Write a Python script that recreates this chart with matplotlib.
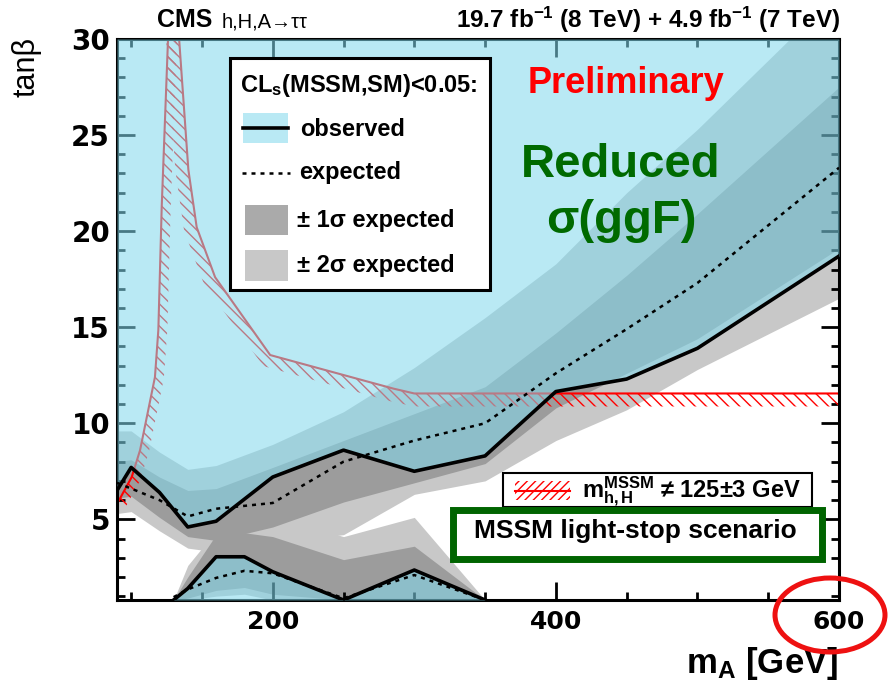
import numpy as np
import matplotlib.pyplot as plt
from matplotlib.patches import Polygon, Rectangle, Ellipse
from matplotlib.lines import Line2D
from matplotlib.ticker import MultipleLocator

plt.rcParams['font.family'] = ['Liberation Sans', 'DejaVu Sans']
plt.rcParams['mathtext.fontset'] = 'custom'
plt.rcParams['mathtext.rm'] = 'Liberation Sans'
plt.rcParams['mathtext.it'] = 'Liberation Sans:italic'
plt.rcParams['mathtext.bf'] = 'Liberation Sans:bold'
plt.rcParams['hatch.linewidth'] = 1.0

# upper exclusion contour (mA in GeV, tan beta)
m_a = [90, 100, 120, 140, 160, 200, 250, 300, 350, 400, 450, 500, 600]
obs_hi = [6.5, 7.7, 6.4, 4.6, 4.9, 7.2, 8.6, 7.5, 8.3, 11.65, 12.3, 13.9, 18.7]
exp_hi = [6.9, 6.6, 6.0, 5.15, 5.55, 5.85, 8.0, 9.1, 10.0, 12.6, 14.9, 17.3, 23.3]
hi_p1 = [8.0, 8.1, 7.2, 6.5, 6.6, 7.7, 9.1, 10.5, 11.9, 14.7, 17.7, 20.9, 27.5]
hi_p2 = [9.6, 9.6, 8.5, 7.6, 7.8, 8.9, 10.6, 12.9, 15.5, 18.3, 22.0, 25.3, 32.5]
hi_m1 = [6.1, 6.2, 5.1, 4.1, 3.9, 4.6, 5.9, 6.9, 7.9, 10.8, 12.6, 14.4, 19.1]
hi_m2 = [5.3, 5.4, 4.4, 3.5, 3.3, 3.8, 4.2, 6.3, 7.0, 9.1, 10.7, 12.8, 16.5]

# low tan beta island
m_lo = [130, 140, 160, 180, 200, 250, 300, 350]
obs_lo = [0.8, 1.4, 3.05, 3.05, 2.27, 0.8, 2.36, 0.8]
exp_lo = [0.95, 1.35, 1.95, 2.32, 2.19, 0.89, 2.1, 0.8]
lo_p1 = [0.8, 2.0, 4.2, 4.3, 4.1, 2.9, 3.6, 0.8]
lo_p2 = [0.8, 2.6, 4.4, 5.0, 5.2, 4.1, 5.1, 0.8]
lo_m1 = [0.8, 0.9, 1.3, 1.45, 1.1, 0.8, 0.8, 0.8]
lo_m2 = [0.8, 0.8, 1.0, 1.1, 0.8, 0.8, 0.8, 0.8]

# mh,H != 125 +- 3 GeV boundary
hmass_left_x = [90, 100.4, 106.3, 116.8, 119.2, 121.6, 126.3]
hmass_left_y = [5.8, 7.2, 8.6, 12.4, 14.85, 21.3, 30.5]
hmass_right_x = [133.4, 140.4, 146.3, 159.3, 198.2, 285.4, 300, 600]
hmass_right_y = [30.5, 23.2, 20.2, 17.6, 13.55, 11.8, 11.55, 11.55]

TANB_MIN, TANB_MAX = 0.8, 30

BLUE = '#82d9ed'
BLUE_ALPHA = 0.56
GRAY_1S = '#9c9c9c'
GRAY_2S = '#c8c8c8'
GREEN = '#006400'

W, H = 891, 686


def fx(x):
    return x / W


def fy(y):
    return 1 - y / H


def hatched_strip(ax, xs, ys, width, **kw):
    # hatch a band of `width` pixels on the right-hand side of the path
    pts = ax.transData.transform(np.column_stack([xs, ys]))
    d = np.gradient(pts, axis=0)
    d /= np.hypot(d[:, 0], d[:, 1])[:, None]
    normal = np.column_stack([d[:, 1], -d[:, 0]])
    edge = pts + normal * width
    outline = np.vstack([pts, edge[::-1]])
    ax.add_patch(Polygon(ax.transData.inverted().transform(outline), closed=True,
                         fill=False, lw=0, **kw))


fig = plt.figure(figsize=(W / 100, H / 100), dpi=100)
ax = fig.add_axes([fx(117), fy(600), (839 - 117) / W, (600 - 39) / H])
ax.set_xlim(90, 600)
ax.set_ylim(TANB_MIN, TANB_MAX)

# expected bands
ax.fill_between(m_a, hi_m2, hi_p2, color=GRAY_2S, lw=0, zorder=1)
ax.fill_between(m_lo, lo_m2, lo_p2, color=GRAY_2S, lw=0, zorder=1)
ax.fill_between(m_a, hi_m1, hi_p1, color=GRAY_1S, lw=0, zorder=1.1)
ax.fill_between(m_lo, lo_m1, lo_p1, color=GRAY_1S, lw=0, zorder=1.1)

# higgs mass constraint
ax.plot(hmass_left_x, hmass_left_y, color='red', lw=1.5, zorder=2)
ax.plot(hmass_right_x, hmass_right_y, color='red', lw=1.5, zorder=2)
hatched_strip(ax, hmass_left_x, hmass_left_y, 9, hatch='\\\\\\', edgecolor='red', zorder=2)
hatched_strip(ax, hmass_right_x, hmass_right_y, 13, hatch='\\\\\\', edgecolor='red', zorder=2)

# observed exclusion
ax.fill_between(m_a, obs_hi, TANB_MAX, color=BLUE, alpha=BLUE_ALPHA, lw=0, zorder=3)
ax.fill_between(m_lo, TANB_MIN, obs_lo, color=BLUE, alpha=BLUE_ALPHA, lw=0, zorder=3)

ax.plot(m_a, obs_hi, color='black', lw=2.6, zorder=5)
ax.plot(m_lo, obs_lo, color='black', lw=2.6, zorder=5)
ax.plot(m_a, exp_hi, color='black', lw=1.8, ls=(0, (1.6, 2.0)), zorder=5)
ax.plot(m_lo, exp_lo, color='black', lw=1.8, ls=(0, (1.6, 2.0)), zorder=5)

# axes styling
ax.xaxis.set_major_locator(MultipleLocator(200))
ax.xaxis.set_minor_locator(MultipleLocator(50))
ax.yaxis.set_major_locator(MultipleLocator(5))
ax.yaxis.set_minor_locator(MultipleLocator(1))
ax.tick_params(which='both', direction='in', top=True, right=True, width=2,
               labelfontfamily='DejaVu Sans')
ax.tick_params(which='major', length=13)
ax.tick_params(which='minor', length=6)
ax.tick_params(axis='x', labelsize=18, pad=7)
ax.tick_params(axis='y', labelsize=20, pad=5)
for lbl in ax.get_xticklabels() + ax.get_yticklabels():
    lbl.set_fontweight('bold')
for sp in ax.spines.values():
    sp.set_linewidth(2.2)

fig.text(fx(838), fy(673), r'$\mathbf{m_{A}}$ [GeV]', ha='right', va='baseline',
         fontsize=25, fontweight='bold')
fig.text(fx(26), fy(37), 'tanβ', rotation=90, ha='center', va='top', fontsize=22)

# header
fig.text(fx(157), fy(27), 'CMS', fontsize=18, fontweight='bold', va='baseline')
fig.text(fx(222), fy(27), 'h,H,A→ττ', fontsize=14.5, va='baseline')
fig.text(fx(840), fy(28), r'19.7 fb$^{\mathbf{-1}}$ (8 TeV) + 4.9 fb$^{\mathbf{-1}}$ (7 TeV)',
         fontsize=17.5, fontweight='bold', ha='right', va='baseline')

fig.text(fx(626), fy(93), 'Preliminary', color='red', fontsize=26, fontweight='bold',
         ha='center', va='baseline')
fig.text(fx(621), fy(177), 'Reduced', color='#006a00', fontsize=34, fontweight='bold',
         ha='center', va='baseline')
fig.text(fx(621), fy(233), 'σ(ggF)', color='#006a00', fontsize=34, fontweight='bold',
         ha='center', va='baseline')

# main legend
fig.add_artist(Rectangle((fx(230), fy(290)), 260 / W, 232 / H, transform=fig.transFigure,
                         fc='white', ec='black', lw=2.2, zorder=10))
fig.text(fx(240), fy(92), r'CL$_{\mathbf{s}}$(MSSM,SM)<0.05:', fontsize=17,
         fontweight='bold', va='baseline', zorder=11)
fig.add_artist(Rectangle((fx(243), fy(143)), 45 / W, 30 / H, transform=fig.transFigure,
                         fc=BLUE, alpha=BLUE_ALPHA, lw=0, zorder=11))
fig.add_artist(Line2D([fx(243), fx(288)], [fy(128), fy(128)], transform=fig.transFigure,
                      color='black', lw=2.6, zorder=12))
fig.add_artist(Line2D([fx(242), fx(290)], [fy(173), fy(173)], transform=fig.transFigure,
                      color='black', lw=1.8, ls=(0, (1.6, 2.0)), zorder=12))
fig.add_artist(Rectangle((fx(245), fy(235)), 43 / W, 30 / H, transform=fig.transFigure,
                         fc='#aaaaaa', lw=0, zorder=11))
fig.add_artist(Rectangle((fx(245), fy(281)), 43 / W, 31 / H, transform=fig.transFigure,
                         fc=GRAY_2S, lw=0, zorder=11))
legend_rows = [('observed', 300, 136), ('expected', 299, 179),
               ('± 1σ expected', 297, 227), ('± 2σ expected', 297, 272)]
for label, x, y in legend_rows:
    fig.text(fx(x), fy(y), label, fontsize=17, fontweight='bold', va='baseline', zorder=12)

# higgs mass legend
fig.add_artist(Rectangle((fx(503), fy(507)), 309 / W, 34 / H, transform=fig.transFigure,
                         fc='white', ec='black', lw=1.5, zorder=10))
fig.add_artist(Rectangle((fx(515), fy(500)), 55 / W, 19 / H, transform=fig.transFigure,
                         fill=False, hatch='////', ec='red', lw=0, zorder=11))
fig.add_artist(Line2D([fx(515), fx(570)], [fy(490.5), fy(490.5)], transform=fig.transFigure,
                      color='red', lw=1.5, zorder=12))
fig.text(fx(582), fy(497), r'$\mathbf{m^{MSSM}_{h,H}}$ ≠ 125±3 GeV', fontsize=17,
         fontweight='bold', va='baseline', zorder=12)

# scenario box
fig.add_artist(Rectangle((fx(453), fy(559)), 369 / W, 49 / H, transform=fig.transFigure,
                         fc='white', ec=GREEN, lw=5, zorder=10))
fig.text(fx(635), fy(538), 'MSSM light-stop scenario', fontsize=19, fontweight='bold',
         ha='center', va='baseline', zorder=12)

fig.add_artist(Ellipse((fx(830), fy(615)), 110 / W, 74 / H, transform=fig.transFigure,
                       fill=False, ec='#ee1111', lw=3.6, zorder=12))

fig.savefig('out.png', dpi=100)
